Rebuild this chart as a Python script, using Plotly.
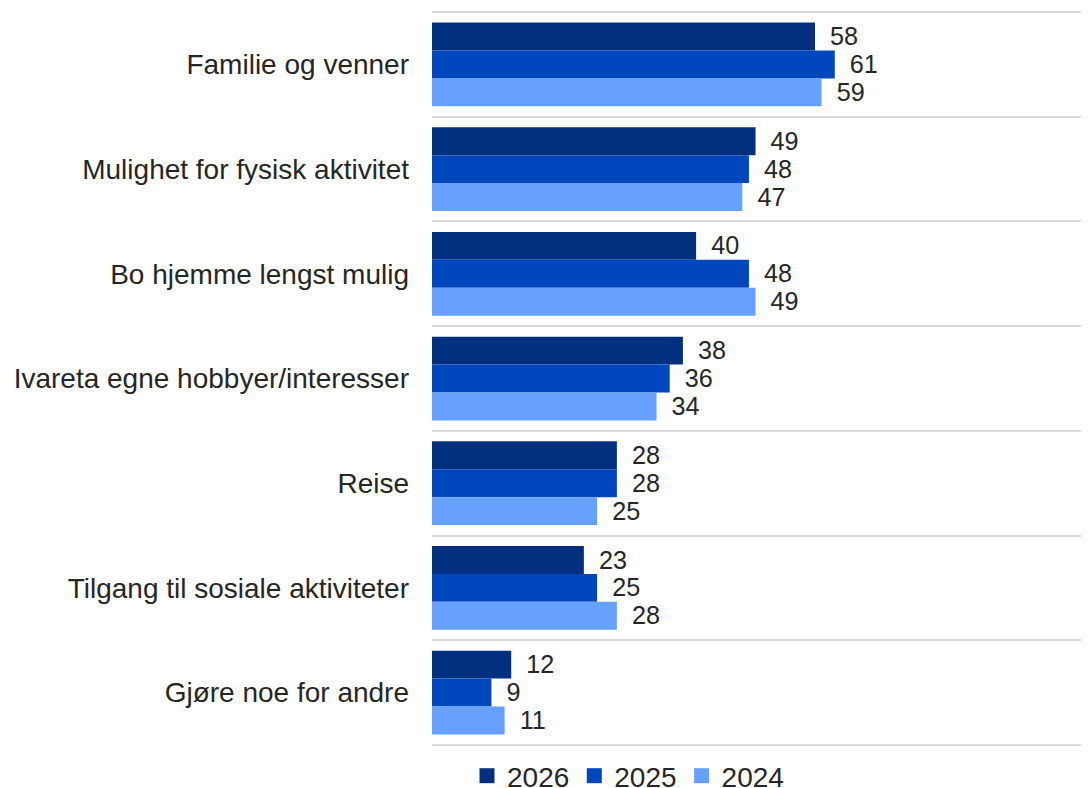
import plotly.graph_objects as go

categories = [
    "Familie og venner",
    "Mulighet for fysisk aktivitet",
    "Bo hjemme lengst mulig",
    "Ivareta egne hobbyer/interesser",
    "Reise",
    "Tilgang til sosiale aktiviteter",
    "Gjøre noe for andre",
]
series_names = ["2026", "2025", "2024"]
values_2026 = [58, 49, 40, 38, 28, 23, 12]
values_2025 = [61, 48, 48, 36, 28, 25, 9]
values_2024 = [59, 47, 49, 34, 25, 28, 11]
colors = ["#02307E", "#0047BE", "#66A1FF"]

positions = list(range(len(categories)))
boundaries = [p - 0.5 for p in positions] + [positions[-1] + 0.5]

FONT = "Liberation Sans, Arial, sans-serif"
W, H = 1081, 780  # page body has an 8px margin

fig = go.Figure()
for name, vals, col in zip(series_names, [values_2026, values_2025, values_2024], colors):
    fig.add_trace(go.Bar(
        y=positions, x=vals, name=name, orientation="h",
        marker=dict(color=col, line=dict(width=0)),
        text=["\u00a0\u2009" + str(v) for v in vals],
        textposition="outside", cliponaxis=False,
        textfont=dict(family=FONT, size=28, color="#262626"),
        showlegend=False, legendgroup=name,
    ))
# legend entries with larger square swatches
for name, col in zip(series_names, colors):
    fig.add_trace(go.Scatter(
        x=[None], y=[None], mode="markers", name=name, legendgroup=name,
        marker=dict(symbol="square", size=15, color=col, line=dict(width=0)),
        hoverinfo="skip",
    ))

fig.update_layout(
    width=W, height=H,
    margin=dict(l=424, r=0, t=2, b=41, autoexpand=False),
    paper_bgcolor="white", plot_bgcolor="white",
    barmode="group", bargap=0.2, bargroupgap=0,
    font=dict(family=FONT, size=28, color="#262626"),
    showlegend=True,
    legend=dict(orientation="h", xref="container", yref="container",
                x=459 / W, xanchor="left", y=12 / H, yanchor="middle",
                font=dict(size=28, color="#262626"), traceorder="normal",
                itemsizing="trace", itemclick=False),
    xaxis=dict(range=[0, 99.5], showgrid=False, zeroline=False, showticklabels=False,
               showline=False, ticks="", automargin=False),
    yaxis=dict(range=[6.52, -0.52], tickmode="array", tickvals=positions, ticktext=categories,
               showgrid=False, zeroline=False, showline=False, ticks="",
               ticklabelstandoff=22, automargin=False,
               minor=dict(tickmode="array", tickvals=boundaries, showgrid=True,
                          gridcolor="#D9D9D9", gridwidth=2, ticks="")),
)

fig.write_html("out.html", post_script="document.body.style.overflow='hidden';")
